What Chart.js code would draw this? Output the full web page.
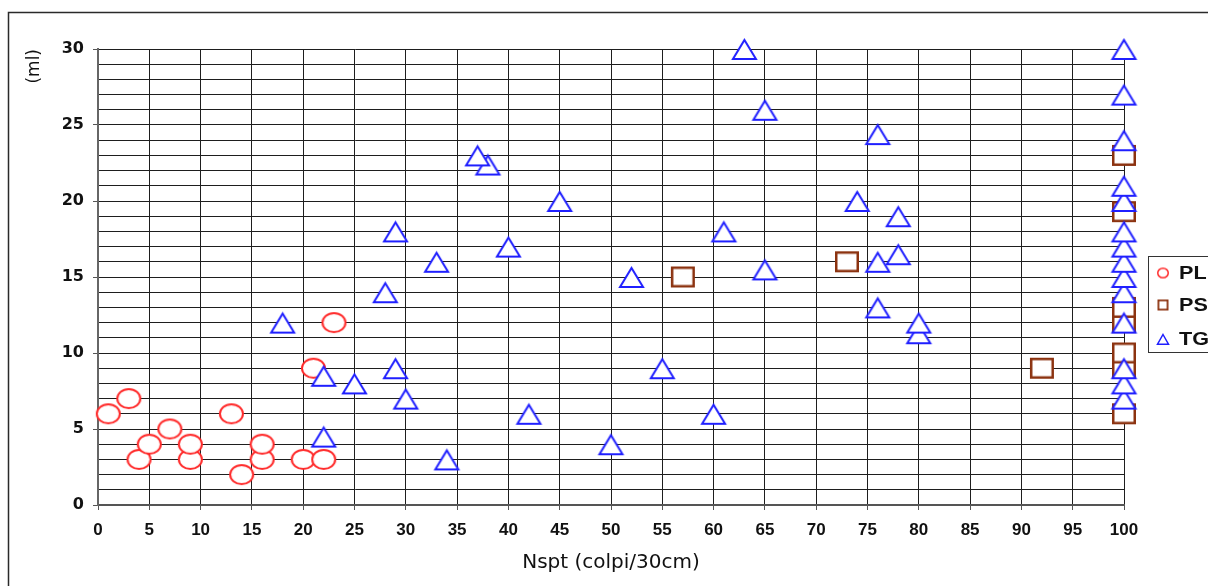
<!DOCTYPE html>
<html><head><meta charset="utf-8">
<script src="https://cdn.jsdelivr.net/npm/chart.js@4.4.0/dist/chart.umd.min.js"></script>
<style>html,body{margin:0;padding:0;background:#fff;overflow:hidden}#wrap{width:1208px;height:586px;position:relative}</style>
</head><body><div id="wrap"><canvas id="c" width="1208" height="586"></canvas></div>
<script>
// ---- data ----
const seriesNames = ['PL', 'PS', 'TG'];
const plX = [14, 4, 9, 16, 20, 22, 5, 9, 16, 7, 1, 13, 3, 21, 23];
const plY = [2, 3, 3, 3, 3, 3, 4, 4, 4, 5, 6, 6, 7, 9, 12];
const psX = [100, 92, 100, 100, 100, 100, 57, 73, 100, 100];
const psY = [6, 9, 9, 10, 12, 13, 15, 16, 19.3, 23];
const tgX = [34, 50, 22, 42, 60, 30, 100, 25, 100, 22, 55, 29, 100, 80, 18, 80, 100, 76, 28, 100, 52, 65, 100, 33, 76, 100, 78, 40, 100, 29, 61, 100, 78, 45, 74, 100, 100, 38, 37, 100, 76, 65, 100, 63, 100];
const tgY = [3, 4, 4.5, 6, 6, 7, 7, 8, 8, 8.5, 9, 9, 9, 11.3, 12, 12, 12, 13, 14, 14, 15, 15.5, 15, 16, 16, 16, 16.5, 17, 17, 18, 18, 18, 19, 20, 20, 20, 21, 22.4, 23, 24, 24.4, 26, 27, 30, 30];
const xTicks = [0, 100, 5];   // min, max, step
const yTicks = [0, 30, 5];    // min, max, labelled step
const axisTitleX = 'Nspt (colpi/30cm)';
const axisTitleY = '(ml)';
const colors = ['#ff2a2a', '#8c3310', '#1f1fff'];

function pts(xs, ys) { return xs.map((x, i) => ({ x: x, y: ys[i] })); }

function marker(type, color, w, h, lw) {
  const c = document.createElement('canvas');
  c.width = w + 2; c.height = h + 2;
  const g = c.getContext('2d');
  const cx = c.width / 2, cy = c.height / 2;
  g.lineWidth = lw; g.strokeStyle = color; g.fillStyle = '#fff';
  g.beginPath();
  if (type === 'circle') {
    g.ellipse(cx, cy, w / 2 - lw / 2, h / 2 - lw / 2, 0, 0, Math.PI * 2);
  } else if (type === 'rect') {
    g.rect(cx - w / 2 + lw / 2, cy - h / 2 + lw / 2, w - lw, h - lw);
  } else {
    g.moveTo(cx, cy - h / 2 + lw);
    g.lineTo(cx + w / 2 - lw, cy + h / 2 - lw / 2);
    g.lineTo(cx - w / 2 + lw, cy + h / 2 - lw / 2);
    g.closePath();
  }
  g.fill(); g.stroke();
  return c;
}
const mk = [
  marker('circle', colors[0], 25, 21, 2),
  marker('rect', colors[1], 24, 21, 2.5),
  marker('triangle', colors[2], 27, 22, 2)
];

const framePlugin = {
  id: 'frame',
  beforeDraw(chart) {
    const ctx = chart.ctx;
    ctx.save();
    ctx.fillStyle = '#fff';
    ctx.fillRect(0, 0, chart.width, chart.height);
    ctx.strokeStyle = '#2a2a2a';
    ctx.lineWidth = 1.5;
    ctx.beginPath();
    ctx.moveTo(8.5, chart.height);
    ctx.lineTo(8.5, 12.5);
    ctx.lineTo(chart.width, 12.5);
    ctx.stroke();
    ctx.restore();
  },
  afterDraw(chart) {
    const ctx = chart.ctx;
    ctx.save();
    ctx.fillStyle = '#fff';
    ctx.fillRect(1148.5, 256.5, 70, 96);
    ctx.strokeStyle = '#333';
    ctx.lineWidth = 1;
    ctx.strokeRect(1148.5, 256.5, 80, 96);
    const rows = [273, 305, 339];
    const small = [
      marker('circle', colors[0], 12, 11, 1.5),
      marker('rect', colors[1], 11, 11, 1.8),
      marker('triangle', colors[2], 14, 12, 1.5)
    ];
    ctx.font = 'bold 18px "Liberation Sans", Arial, sans-serif';
    ctx.fillStyle = '#111';
    ctx.textBaseline = 'middle';
    seriesNames.forEach((n, i) => {
      const m = small[i];
      ctx.drawImage(m, 1163 - m.width / 2, rows[i] - m.height / 2);
      ctx.save();
      ctx.translate(1179, rows[i] + 1);
      ctx.scale(1.2, 1);
      ctx.fillText(n, 0, 0);
      ctx.restore();
    });
    ctx.restore();
  }
};

new Chart(document.getElementById('c'), {
  type: 'scatter',
  data: {
    datasets: seriesNames.map((n, i) => ({
      label: n,
      data: pts([plX, psX, tgX][i], [plY, psY, tgY][i]),
      pointStyle: mk[i],
      pointRadius: 6,
      clip: false,
      order: 2 - i
    }))
  },
  options: {
    responsive: false,
    animation: false,
    events: [],
    layout: { padding: { top: 49, right: 84, bottom: 0, left: 0 } },
    plugins: { legend: { display: false }, tooltip: { enabled: false } },
    scales: {
      x: {
        type: 'linear', min: xTicks[0], max: xTicks[1],
        afterFit(s) { s.height = 81; },
        ticks: { stepSize: xTicks[2], autoSkip: false, maxRotation: 0, padding: 10, color: '#111',
          font: { family: '"Liberation Sans", Arial, sans-serif', weight: 'bold', size: 17 } },
        grid: { color: '#1e1e1e', lineWidth: 1, tickLength: 5, tickColor: '#555' },
        border: { color: '#555', width: 2 },
        title: { display: true, text: axisTitleX, color: '#111', padding: { top: 0, bottom: 11 },
          font: { family: '"DejaVu Sans", sans-serif', size: 20 } }
      },
      y: {
        type: 'linear', min: yTicks[0], max: yTicks[1],
        afterFit(s) { s.width = 98; },
        ticks: { stepSize: 1, autoSkip: false, padding: 9, color: '#111',
          callback: v => (v % yTicks[2] === 0 ? v : ''),
          font: { family: '"DejaVu Sans", sans-serif', weight: 'bold', size: 16 } },
        grid: { color: '#1e1e1e', lineWidth: 1, tickLength: 5,
          tickColor: c => (c.tick && c.tick.value % yTicks[2] === 0 ? '#555' : 'rgba(0,0,0,0)') },
        border: { color: '#666', width: 2 },
        title: { display: true, text: axisTitleY, align: 'end', color: '#111', padding: { top: 24, bottom: 0 },
          font: { family: '"DejaVu Sans", sans-serif', size: 17 } }
      }
    }
  },
  plugins: [framePlugin]
});
</script></body></html>
